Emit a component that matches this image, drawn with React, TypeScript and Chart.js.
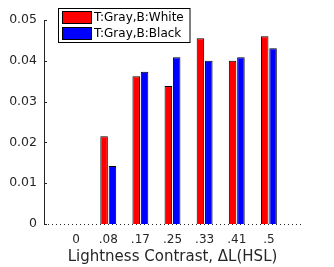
import React, { useEffect, useRef } from "react";
import { Chart, registerables } from "chart.js";

Chart.register(...registerables);

const categories = ["0", ".08", ".17", ".25", ".33", ".41", ".5"];
const whiteBg = [0, 0.0215, 0.0362, 0.0338, 0.0455, 0.04, 0.046];
const blackBg = [0, 0.0142, 0.0373, 0.0409, 0.04, 0.0409, 0.0431];
const seriesNames = ["T:Gray,B:White", "T:Gray,B:Black"];
const seriesColors = ["#ff0000", "#0000ff"];
const yTicks = [0, 0.01, 0.02, 0.03, 0.04, 0.05];
const xLabel = "Lightness Contrast, \u0394L(HSL)";

const FONT = "'DejaVu Sans', sans-serif";
const TXT = "#262626";

const extras = {
  id: "matlabExtras",
  afterDatasetsDraw(chart: any) {
    const { ctx, chartArea, scales } = chart;
    const y = scales.y;
    ctx.save();
    // dotted baseline
    const y0 = Math.round(y.getPixelForValue(0)) + 0.5;
    ctx.strokeStyle = TXT;
    ctx.lineWidth = 1;
    ctx.setLineDash([1, 3]);
    ctx.beginPath();
    ctx.moveTo(chartArea.left, y0);
    ctx.lineTo(chartArea.right, y0);
    ctx.stroke();
    ctx.setLineDash([]);
    // inward y ticks
    yTicks.forEach((v) => {
      const py = Math.round(y.getPixelForValue(v)) + 0.5;
      ctx.beginPath();
      ctx.moveTo(chartArea.left, py);
      ctx.lineTo(chartArea.left + 3, py);
      ctx.stroke();
    });
    // legend
    const bx = 58.5, by = 8.5, bw = 131.5, bh = 34;
    ctx.fillStyle = "#ffffff";
    ctx.fillRect(bx, by, bw, bh);
    ctx.strokeStyle = "#000";
    ctx.strokeRect(bx, by, bw, bh);
    ctx.font = `12px ${FONT}`;
    ctx.textBaseline = "middle";
    ctx.textAlign = "left";
    chart.data.datasets.forEach((ds: any, i: number) => {
      const ry = 11.5 + i * 16;
      ctx.fillStyle = ds.backgroundColor;
      ctx.fillRect(62.5, ry, 29, 12);
      ctx.strokeStyle = "#000";
      ctx.strokeRect(62.5, ry, 29, 12);
      ctx.fillStyle = "#000";
      ctx.fillText(ds.label, 94, ry + 6.5);
    });
    ctx.restore();
  },
};

export default function App() {
  const ref = useRef<HTMLCanvasElement | null>(null);
  useEffect(() => {
    if (!ref.current) return;
    const chart = new Chart(ref.current, {
      type: "bar",
      data: {
        datasets: [whiteBg, blackBg].map((vals, k) => ({
          label: seriesNames[k],
          data: vals.map((v, i) => ({ x: i, y: v })),
          backgroundColor: seriesColors[k],
          borderColor: "#000",
          borderWidth: 1,
          categoryPercentage: 0.52,
          barPercentage: 0.9,
        })),
      },
      plugins: [extras],
      options: {
        animation: false,
        responsive: false,
        layout: { padding: { top: 20, right: 33, left: 0, bottom: 0 } },
        plugins: { legend: { display: false }, tooltip: { enabled: false } },
        scales: {
          x: {
            type: "linear",
            offset: false,
            min: -1,
            max: 7,
            afterBuildTicks: (s: any) => {
              s.ticks = categories.map((_, i) => ({ value: i }));
            },
            afterFit: (s: any) => {
              s.height = 43;
            },
            grid: { display: false, drawTicks: false },
            border: { display: false },
            ticks: {
              padding: 9,
              color: TXT,
              font: { family: FONT, size: 12 },
              callback: (v: any) => categories[v] ?? "",
              maxRotation: 0,
              autoSkip: false,
            },
            title: {
              display: true,
              text: xLabel,
              color: TXT,
              font: { family: FONT, size: 15, lineHeight: 1.2 },
              padding: { top: 0, bottom: 1 },
            },
          },
          y: {
            min: 0,
            max: 0.05,
            afterBuildTicks: (s: any) => {
              s.ticks = yTicks.map((v) => ({ value: v }));
            },
            afterFit: (s: any) => {
              s.width = 44;
            },
            grid: { display: false, drawTicks: false },
            border: { display: true, color: TXT, width: 1 },
            ticks: {
              padding: 7,
              color: TXT,
              font: { family: FONT, size: 12.5 },
              callback: (v: any) => (v === 0 ? "0" : Number(v).toFixed(2)),
            },
          },
        },
      },
    } as any);
    return () => chart.destroy();
  }, []);
  return (
    <div style={{ position: "absolute", left: 0, top: 0, width: 334, height: 267, background: "#fff" }}>
      <canvas ref={ref} width={334} height={267} style={{ display: "block" }} />
    </div>
  );
}
